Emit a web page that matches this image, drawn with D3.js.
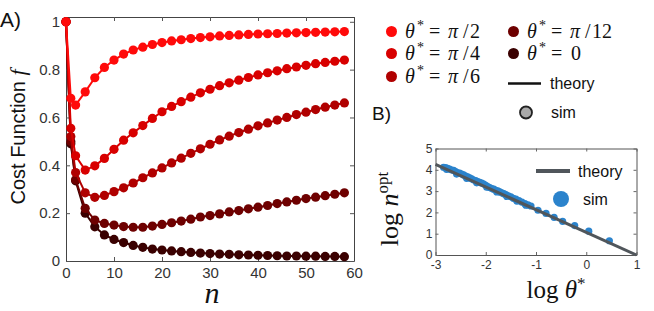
<!DOCTYPE html>
<html>
<head>
<meta charset="utf-8">
<script src="https://cdn.jsdelivr.net/npm/d3@7"></script>
<style>
  body { margin: 0; background: #fff; }
  svg { display: block; }
  .tick-lab { font-family: "Liberation Sans", Arial, sans-serif; fill: #333; }
  .math { font-family: "Liberation Serif", "DejaVu Serif", serif; fill: #111; }
  .sans { font-family: "Liberation Sans", Arial, sans-serif; fill: #111; }
</style>
</head>
<body>
<div id="chart"></div>
<script>
// ---- data ----
const nValues = [0, 1, 2, 4, 6, 8, 10, 12, 14, 16, 18, 20, 22, 24, 26, 28, 30, 32, 34, 36, 38, 40, 42, 44, 46, 48, 50, 52, 54, 56, 58];
const fHalfPi = [1.0, 0.68, 0.652, 0.707, 0.766, 0.809, 0.84, 0.865, 0.882, 0.894, 0.905, 0.913, 0.92, 0.925, 0.93, 0.934, 0.937, 0.941, 0.943, 0.945, 0.947, 0.949, 0.95, 0.951, 0.953, 0.954, 0.955, 0.956, 0.957, 0.958, 0.959];
const fQuarterPi = [1.0, 0.555, 0.44, 0.38, 0.398, 0.429, 0.467, 0.505, 0.536, 0.566, 0.596, 0.624, 0.646, 0.666, 0.685, 0.703, 0.718, 0.733, 0.745, 0.756, 0.767, 0.778, 0.787, 0.795, 0.804, 0.811, 0.818, 0.825, 0.83, 0.835, 0.84];
const fSixthPi = [1.0, 0.52, 0.37, 0.285, 0.266, 0.274, 0.29, 0.306, 0.326, 0.348, 0.368, 0.389, 0.41, 0.43, 0.45, 0.469, 0.488, 0.506, 0.522, 0.537, 0.551, 0.565, 0.577, 0.589, 0.6, 0.612, 0.622, 0.633, 0.643, 0.652, 0.661];
const fTwelfthPi = [1.0, 0.50, 0.34, 0.22, 0.171, 0.157, 0.15, 0.144, 0.141, 0.141, 0.146, 0.153, 0.16, 0.167, 0.175, 0.184, 0.19, 0.197, 0.205, 0.211, 0.218, 0.225, 0.232, 0.24, 0.247, 0.254, 0.261, 0.267, 0.273, 0.279, 0.285];
const fZero = [1.0, 0.49, 0.335, 0.2, 0.143, 0.109, 0.09, 0.077, 0.065, 0.057, 0.05, 0.046, 0.042, 0.039, 0.036, 0.033, 0.031, 0.029, 0.028, 0.026, 0.025, 0.024, 0.023, 0.022, 0.021, 0.021, 0.02, 0.02, 0.019, 0.019, 0.018];

const seriesLabels = ["π/2", "π/4", "π/6", "π/12", "0"];
const seriesColors = ["#ff0a0a", "#d80000", "#b00000", "#6e0000", "#3a0000"];
const seriesValues = [fHalfPi, fQuarterPi, fSixthPi, fTwelfthPi, fZero];

const xTicksA = [0, 10, 20, 30, 40, 50, 60];
const yTicksA = [0, 0.2, 0.4, 0.6, 0.8, 1];

// panel B
const simLogTheta = [-2.84, -2.80, -2.76, -2.72, -2.68, -2.64, -2.60, -2.56, -2.52, -2.48, -2.44, -2.40, -2.36, -2.32, -2.28, -2.24, -2.20, -2.16, -2.12, -2.08, -2.04, -2.00, -1.96, -1.92, -1.88, -1.84, -1.80, -1.76, -1.72, -1.68, -1.64, -1.60, -1.55, -1.50, -1.45, -1.40, -1.34, -1.28, -1.22, -1.16, -1.10, -0.96, -0.80, -0.64, -0.47, -0.23, 0.05, 0.46,
  -2.78, -2.58, -2.38, -2.18, -1.98, -1.78, -1.58, -1.38, -1.20];
const simLogN = [4.12, 4.10, 4.07, 4.03, 3.99, 3.97, 3.92, 3.86, 3.84, 3.80, 3.76, 3.70, 3.67, 3.62, 3.58, 3.52, 3.49, 3.45, 3.41, 3.37, 3.33, 3.27, 3.21, 3.17, 3.12, 3.09, 3.04, 3.01, 2.96, 2.92, 2.88, 2.83, 2.78, 2.73, 2.66, 2.62, 2.55, 2.48, 2.41, 2.35, 2.30, 2.10, 1.95, 1.77, 1.58, 1.38, 1.12, 0.67,
  4.02, 3.80, 3.60, 3.39, 3.18, 2.96, 2.75, 2.53, 2.34];
const theoryLogTheta = [-3, 1];
const theoryLogN = [4.26, 0];
const xTicksB = [-3, -2, -1, 0, 1];
const yTicksB = [0, 1, 2, 3, 4, 5];

const width = 654, height = 311;
const svg = d3.select("#chart").append("svg")
  .attr("width", width).attr("height", height);

// ===== Panel A =====
const x = d3.scaleLinear().domain([0, 60]).range([66, 354]);
const y = d3.scaleLinear().domain([0, 1.02]).range([261, 17]);

const gA = svg.append("g");

// axes, matlab style: ticks inside, mirrored box
const tickA = 4;
gA.append("g").attr("transform", "translate(0,261)")
  .call(d3.axisBottom(x).tickValues(xTicksA).tickSizeInner(-tickA).tickSizeOuter(0).tickPadding(6).tickFormat(d => String(d)));
gA.append("g").attr("transform", "translate(0,17)")
  .call(d3.axisTop(x).tickValues(xTicksA).tickSizeInner(-tickA).tickSizeOuter(0).tickFormat(""));
gA.append("g").attr("transform", "translate(66,0)")
  .call(d3.axisLeft(y).tickValues(yTicksA).tickSizeInner(-tickA).tickSizeOuter(0).tickPadding(6).tickFormat(d => d === 0 || d === 1 ? String(d) : d3.format(".1f")(d)));
gA.append("g").attr("transform", "translate(354,0)")
  .call(d3.axisRight(y).tickValues(yTicksA).tickSizeInner(-tickA).tickSizeOuter(0).tickFormat(""));
gA.selectAll(".domain").attr("stroke", "#444");
gA.selectAll(".tick line").attr("stroke", "#555");
gA.selectAll(".tick text").attr("class", "tick-lab").style("font-size", "15px").attr("fill", "#333");

// curves, darkest first so bright red ends on top
const line = d3.line().x((d, i) => x(nValues[i])).y(d => y(d));
for (let s = seriesValues.length - 1; s >= 0; s--) {
  gA.append("path")
    .datum(seriesValues[s])
    .attr("d", line)
    .attr("fill", "none")
    .attr("stroke", seriesColors[s])
    .attr("stroke-width", 2);
  gA.selectAll(".dot" + s)
    .data(seriesValues[s])
    .enter().append("circle")
    .attr("cx", (d, i) => x(nValues[i]))
    .attr("cy", d => y(d))
    .attr("r", 4.6)
    .attr("fill", seriesColors[s]);
}

// labels
svg.append("text").attr("class", "sans").attr("x", 0).attr("y", 27)
  .style("font-size", "21px").text("A)");
const yl = svg.append("text").attr("class", "sans")
  .attr("transform", "translate(25,137) rotate(-90)")
  .attr("text-anchor", "middle").style("font-size", "20px");
yl.append("tspan").text("Cost Function ");
yl.append("tspan").attr("class", "math").style("font-style", "italic").style("font-size", "22px").text("f");
svg.append("text").attr("class", "math").attr("x", 212).attr("y", 303)
  .attr("text-anchor", "middle").style("font-style", "italic").style("font-size", "30px").text("n");

// ===== legend =====
const legRows = [[0, 391.5, 31.5], [1, 391.5, 53.5], [2, 391.5, 76.5], [3, 513.5, 31.5], [4, 513.5, 53.5]];
legRows.forEach(([s, cx, cy]) => {
  svg.append("circle").attr("cx", cx).attr("cy", cy).attr("r", 5.5).attr("fill", seriesColors[s]);
  const x0 = cx + 13.5, base = cy + 6;
  const t = svg.append("text").attr("class", "math").attr("y", base).style("font-size", "20px");
  t.append("tspan").attr("x", x0).style("font-style", "italic").text("θ");
  t.append("tspan").attr("x", x0 + 12).attr("dy", -8).style("font-size", "14px").text("*");
  t.append("tspan").attr("x", x0 + 24).attr("dy", 8).text("=");
  const lab = seriesLabels[s];
  if (lab === "0") {
    t.append("tspan").attr("x", x0 + 44).text("0");
  } else {
    t.append("tspan").attr("x", x0 + 43).style("font-style", "italic").text("π");
    t.append("tspan").attr("x", x0 + 58).text("/");
    t.append("tspan").attr("x", x0 + 65).text(lab.slice(2));
  }
});
svg.append("line").attr("x1", 508).attr("x2", 541).attr("y1", 83.5).attr("y2", 83.5)
  .attr("stroke", "#111").attr("stroke-width", 2.5);
svg.append("text").attr("class", "sans").attr("x", 550).attr("y", 89).style("font-size", "16px").text("theory");
svg.append("circle").attr("cx", 526).attr("cy", 112.5).attr("r", 6)
  .attr("fill", "#aaa").attr("stroke", "#222").attr("stroke-width", 1.8);
svg.append("text").attr("class", "sans").attr("x", 551).attr("y", 118).style("font-size", "16px").text("sim");

// ===== Panel B =====
const xb = d3.scaleLinear().domain([-3, 1]).range([435.5, 636.5]);
const yb = d3.scaleLinear().domain([0, 5]).range([255, 148.5]);
const gB = svg.append("g");
const tickB = 3;
gB.append("g").attr("transform", "translate(0,255)")
  .call(d3.axisBottom(xb).tickValues(xTicksB).tickSizeInner(-tickB).tickSizeOuter(0).tickPadding(5).tickFormat(d => String(d)));
gB.append("g").attr("transform", "translate(0,148.5)")
  .call(d3.axisTop(xb).tickValues(xTicksB).tickSizeInner(-tickB).tickSizeOuter(0).tickFormat(""));
gB.append("g").attr("transform", "translate(435.5,0)")
  .call(d3.axisLeft(yb).tickValues(yTicksB).tickSizeInner(-tickB).tickSizeOuter(0).tickPadding(3).tickFormat(d => String(d)));
gB.append("g").attr("transform", "translate(636.5,0)")
  .call(d3.axisRight(yb).tickValues(yTicksB).tickSizeInner(-tickB).tickSizeOuter(0).tickFormat(""));
gB.selectAll(".domain").attr("stroke", "#555");
gB.selectAll(".tick line").attr("stroke", "#666");
gB.selectAll(".tick text").attr("class", "tick-lab").style("font-size", "12px").attr("fill", "#333");

gB.selectAll(".sim").data(simLogTheta).enter().append("circle")
  .attr("cx", d => xb(d))
  .attr("cy", (d, i) => yb(simLogN[i]))
  .attr("r", 3.6)
  .attr("fill", "#2b83cc");
gB.append("line")
  .attr("x1", xb(theoryLogTheta[0])).attr("y1", yb(theoryLogN[0]))
  .attr("x2", xb(theoryLogTheta[1])).attr("y2", yb(theoryLogN[1]))
  .attr("stroke", "#50565b").attr("stroke-width", 3);

// panel B legend
svg.append("line").attr("x1", 536).attr("x2", 570).attr("y1", 171).attr("y2", 171)
  .attr("stroke", "#50565b").attr("stroke-width", 4);
svg.append("text").attr("class", "sans").attr("x", 578).attr("y", 177).style("font-size", "16px").text("theory");
svg.append("circle").attr("cx", 561).attr("cy", 199).attr("r", 8).attr("fill", "#2b83cc");
svg.append("text").attr("class", "sans").attr("x", 583).attr("y", 205).style("font-size", "16px").text("sim");

svg.append("text").attr("class", "sans").attr("x", 372).attr("y", 120)
  .style("font-size", "19px").text("B)");

const ylb = svg.append("text").attr("class", "math")
  .attr("transform", "translate(398,209) rotate(-90)")
  .attr("text-anchor", "middle").style("font-size", "26px");
ylb.append("tspan").text("log ");
ylb.append("tspan").style("font-style", "italic").text("n");
ylb.append("tspan").attr("dy", -10).style("font-size", "17px").text("opt");

const xlb = svg.append("text").attr("class", "math")
  .attr("x", 556).attr("y", 298)
  .attr("text-anchor", "middle").style("font-size", "25px");
xlb.append("tspan").text("log ");
xlb.append("tspan").style("font-style", "italic").text("θ");
xlb.append("tspan").attr("dy", -9).style("font-size", "17px").text("*");
</script>
</body>
</html>
